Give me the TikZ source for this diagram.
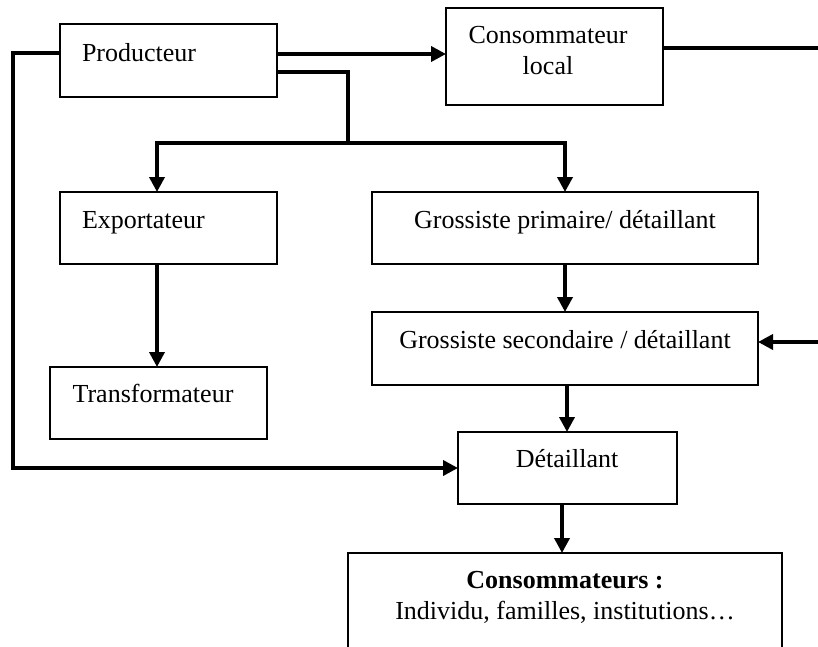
\documentclass[tikz,border=0pt]{standalone}
\usepackage{fontspec}
\setmainfont{Liberation Serif}
\usetikzlibrary{arrows.meta}

\tikzset{
  box/.style={draw, line width=1.2pt, rectangle, inner sep=0pt, outer sep=0pt, fill=white},
  lbl/.style={inner sep=0pt, outer sep=0pt, font=\fontsize{26}{31}\selectfont},
  conn/.style={line width=3.6pt},
  flow/.style={conn, -{Triangle[length=15pt,width=15pt]}},
}

\begin{document}
\begin{tikzpicture}[x=1pt, y=-1pt]
  \useasboundingbox (0,0) rectangle (818,646);
  \clip (0,0) rectangle (818,646);

  % boxes
  \node[box, minimum width=217pt, minimum height=73pt] (prod) at (168.5,60.5) {};
  \node[box, minimum width=217pt, minimum height=97pt] (cloc) at (554.5,56.5) {};
  \node[box, minimum width=217pt, minimum height=72pt] (expo) at (168.5,228) {};
  \node[box, minimum width=386pt, minimum height=72pt] (gp) at (565,228) {};
  \node[box, minimum width=386pt, minimum height=73pt] (gs) at (565,348.5) {};
  \node[box, minimum width=217pt, minimum height=72pt] (trans) at (158.5,403) {};
  \node[box, minimum width=219pt, minimum height=72pt] (det) at (567.5,468) {};
  \node[box, minimum width=434pt, minimum height=147pt] (cons) at (565,626.5) {};

  % texts
  \node[lbl, anchor=base west] (prodtxt) at (82,61) {Producteur};
  \node[lbl, anchor=base] (cloctxta) at (548,43) {Consommateur};
  \node[lbl, anchor=base] (cloctxtb) at (548,74) {local};
  \node[lbl, anchor=base west] (expotxt) at (82,228) {Exportateur};
  \node[lbl, anchor=base] (gptxt) at (565,228) {Grossiste primaire/ détaillant};
  \node[lbl, anchor=base] (gstxt) at (565,348) {Grossiste secondaire / détaillant};
  \node[lbl, anchor=base] (transtxt) at (153,402) {Transformateur};
  \node[lbl, anchor=base] (dettxt) at (567,467) {Détaillant};
  \node[lbl, anchor=base] (constxta) at (565,588) {\bfseries Consommateurs :};
  \node[lbl, anchor=base] (constxtb) at (565,619) {Individu, familles, institutions…};

  % free ends and junctions
  \coordinate (outr) at (818,48);
  \coordinate (inr) at (818,342);
  \coordinate (split) at (348,143);
  \coordinate (lside) at (13,53);

  % connectors
  \draw[flow] (prod.east |- 0,54) -- (cloc.west |- 0,54);
  \draw[conn] (cloc.east |- outr) -- (outr);
  \draw[conn] (prod.east |- 0,72) -| (split);
  \draw[conn] (split) -- (157,143 -| split);
  \draw[flow] (split) -| (expo.north -| 157,0);
  \draw[flow] (split) -| (gp.north);
  \draw[flow] (prod.west |- lside) -- (lside) |- (det.west);
  \draw[flow] (expo.south -| 157,0) -- (trans.north -| 157,0);
  \draw[flow] (gp.south) -- (gs.north);
  \draw[flow] (inr) -- (gs.east |- inr);
  \draw[flow] (gs.south -| 567,0) -- (det.north -| 567,0);
  \draw[flow] (det.south -| 562,0) -- (cons.north -| 562,0);
\end{tikzpicture}
\end{document}
